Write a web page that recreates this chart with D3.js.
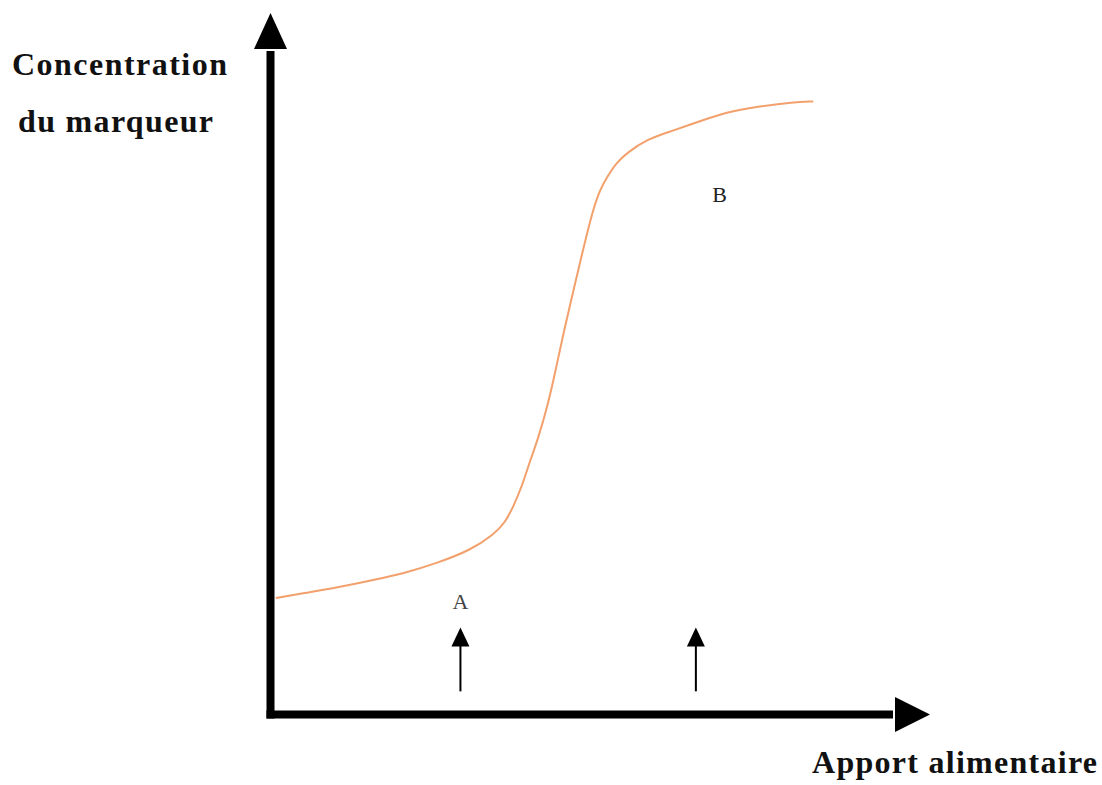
<!DOCTYPE html>
<html>
<head>
<meta charset="utf-8">
<script src="https://cdn.jsdelivr.net/npm/d3@7"></script>
<style>
  html, body { margin: 0; padding: 0; background: #fff; }
  svg { display: block; }
</style>
</head>
<body>
<svg id="chart" width="1102" height="785"></svg>
<script>
// ---- Data (arbitrary units) ----
const intake = [0.8, 5.0, 10.2, 15.2, 20.2, 25.3, 30.3, 33.9, 35.6, 36.8, 38.2, 39.4, 40.5, 42.0, 43.2, 44.2, 45.5, 46.4, 47.4, 48.9, 50.0, 51.1, 52.4, 54.1, 57.1, 60.6, 65.2, 69.2, 74.2, 79.2, 82.3];
const concentration = [16.6, 17.3, 18.1, 19.1, 20.1, 21.6, 23.4, 25.7, 27.4, 29.6, 32.7, 36.3, 39.1, 43.9, 48.9, 53.4, 58.7, 62.3, 66.3, 72.0, 74.9, 76.7, 78.6, 80.1, 82.0, 83.1, 84.6, 85.9, 86.7, 87.3, 87.4];
const markerNames = ["A", "B"];
const markerIntake = [28.8, 64.5];
const yAxisTitle = ["Concentration", "du marqueur"];
const xAxisTitle = "Apport alimentaire";

// ---- Scales ----
const x = d3.scaleLinear().domain([0, 100]).range([270.5, 930]);
const y = d3.scaleLinear().domain([0, 100]).range([714.5, 13]);

const svg = d3.select("#chart");

// ---- Curve ----
const pts = intake.map((v, i) => [v, concentration[i]]);
svg.append("path")
  .datum(pts)
  .attr("fill", "none")
  .attr("stroke", "#F2A06C")
  .attr("stroke-width", 2)
  .attr("d", d3.line().x(d => x(d[0])).y(d => y(d[1])).curve(d3.curveBasis));

// ---- Axes (thick with arrowheads) ----
const x0 = x(0), y0 = y(0);
const xTip = x.range()[1], yTip = y.range()[1];
svg.append("line").attr("x1", x0).attr("x2", x0).attr("y1", y0 + 4).attr("y2", yTip + 38)
  .attr("stroke", "#000").attr("stroke-width", 8);
svg.append("path")
  .attr("d", `M${x0},${yTip} L${x0 - 16.5},${yTip + 36} L${x0 + 16.5},${yTip + 36} Z`)
  .attr("fill", "#000");
svg.append("line").attr("x1", x0 - 4).attr("x2", xTip - 37).attr("y1", y0).attr("y2", y0)
  .attr("stroke", "#000").attr("stroke-width", 8);
svg.append("path")
  .attr("d", `M${xTip},${y0} L${xTip - 35},${y0 - 17.5} L${xTip - 35},${y0 + 17.5} Z`)
  .attr("fill", "#000");

// ---- Marker arrows ----
const arrowBottom = 3.3, arrowTop = 12.4;
markerIntake.forEach(v => {
  const ax = x(v);
  svg.append("line").attr("x1", ax).attr("x2", ax)
    .attr("y1", y(arrowBottom)).attr("y2", y(arrowTop) + 16)
    .attr("stroke", "#000").attr("stroke-width", 2);
  svg.append("path")
    .attr("d", `M${ax},${y(arrowTop)} L${ax - 9},${y(arrowTop) + 19} L${ax + 9},${y(arrowTop) + 19} Z`)
    .attr("fill", "#000");
});

// ---- Marker labels ----
const labelPos = [[28.8, 15.1], [68.1, 73.0]];
markerNames.forEach((n, i) => {
  svg.append("text")
    .attr("x", x(labelPos[i][0])).attr("y", y(labelPos[i][1]))
    .attr("text-anchor", "middle")
    .attr("font-family", "'Liberation Serif', 'DejaVu Serif', serif")
    .attr("font-size", 22)
    .attr("fill", i === 0 ? "#444" : "#222")
    .text(n);
});

// ---- Axis titles ----
const titleFont = "'Liberation Serif', 'DejaVu Serif', serif";
const yTitleLayout = [[12, 75, 215], [18, 132, 195]];
yAxisTitle.forEach((t, i) => {
  svg.append("text")
    .attr("x", yTitleLayout[i][0]).attr("y", yTitleLayout[i][1])
    .attr("font-family", titleFont).attr("font-weight", "bold").attr("font-size", 32)
    .attr("fill", "#111")
    .attr("textLength", yTitleLayout[i][2]).attr("lengthAdjust", "spacing")
    .text(t);
});
svg.append("text")
  .attr("x", 812).attr("y", 773)
  .attr("font-family", titleFont).attr("font-weight", "bold").attr("font-size", 32)
  .attr("fill", "#111")
  .attr("textLength", 285).attr("lengthAdjust", "spacing")
  .text(xAxisTitle);
</script>
</body>
</html>
